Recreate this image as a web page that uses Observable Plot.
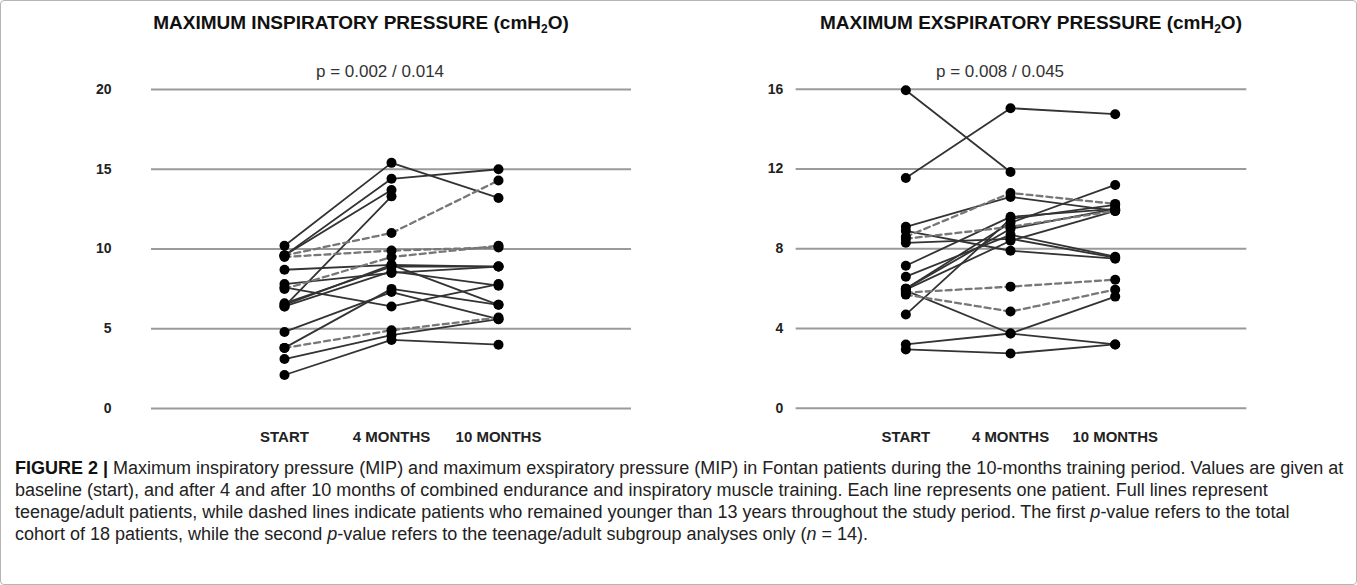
<!DOCTYPE html>
<html><head><meta charset="utf-8">
<script src="https://cdn.jsdelivr.net/npm/d3@7"></script>
<script src="https://cdn.jsdelivr.net/npm/@observablehq/plot@0.6"></script>
<style>
html,body{margin:0;padding:0;background:#fff;}
#fig{position:relative;width:1357px;height:585px;box-sizing:border-box;border:1px solid #b5b5b5;border-radius:4px;overflow:hidden;font-family:"Liberation Sans",Arial,sans-serif;}
.panel{position:absolute;top:0;}
.title{position:absolute;font-weight:bold;font-size:19px;line-height:22px;color:#111;white-space:nowrap;transform:translateX(-50%);}
.title sub{font-size:12px;vertical-align:-4px;line-height:0;}
.pval{position:absolute;font-size:17px;line-height:18px;color:#333;white-space:nowrap;transform:translateX(-50%);}
#caption{position:absolute;left:14px;top:456px;font-size:18px;line-height:22px;color:#222;font-family:"Liberation Sans Narrow","Liberation Sans",Arial,sans-serif;font-stretch:condensed;white-space:nowrap;}
#caption b{color:#111;}
</style></head><body>
<div id="fig">
  <div id="left" class="panel" style="left:0px"></div>
  <div id="right" class="panel" style="left:680px"></div>
  <div class="title" style="left:360px;top:11px">MAXIMUM INSPIRATORY PRESSURE (cmH<sub>2</sub>O)</div>
  <div class="title" style="left:1030px;top:11px">MAXIMUM EXSPIRATORY PRESSURE (cmH<sub>2</sub>O)</div>
  <div class="pval" style="left:379px;top:62px">p = 0.002 / 0.014</div>
  <div class="pval" style="left:999px;top:62px">p = 0.008 / 0.045</div>
  <div id="caption">
    <div><b>FIGURE 2 |</b> Maximum inspiratory pressure (MIP) and maximum exspiratory pressure (MIP) in Fontan patients during the 10-months training period. Values are given at</div>
    <div>baseline (start), and after 4 and after 10 months of combined endurance and inspiratory muscle training. Each line represents one patient. Full lines represent</div>
    <div>teenage/adult patients, while dashed lines indicate patients who remained younger than 13 years throughout the study period. The first <i>p</i>-value refers to the total</div>
    <div>cohort of 18 patients, while the second <i>p</i>-value refers to the teenage/adult subgroup analyses only (<i>n</i> = 14).</div>
  </div>
</div>
<script>
// Time points (x categories)
const timepoints = ["START", "4 MONTHS", "10 MONTHS"];

// Maximum inspiratory pressure (cmH2O), one entry per patient
const mipStart = [10.2, 9.6, 9.6, 6.4, 8.7, 7.8, 7.6, 6.5, 6.4, 4.8, 3.8, 3.1, 2.1, 6.6, 9.6, 9.5, 7.5, 3.8];
const mip4m    = [15.4, 14.4, 13.7, 13.3, 9.0, 8.5, 6.4, 9.0, 8.6, 7.3, 7.5, 4.6, 4.3, 8.9, 11.0, 9.9, 9.5, 4.9];
const mip10m   = [13.2, 15.0, null, null, 8.9, 8.9, 7.8, 6.5, 7.7, 5.6, 6.5, 5.6, 4.0, 8.9, 14.3, 10.1, 10.2, 5.7];

// Maximum exspiratory pressure (cmH2O), one entry per patient
const mepStart = [15.95, 11.55, 9.1, 8.3, 7.15, 6.6, 6.0, 6.0, 5.9, 4.7, 3.2, 2.95, 8.9, 5.95, 8.6, 8.5, 5.8, 5.7];
const mep4m    = [11.85, 15.05, 10.6, 8.5, 9.6, 8.7, 9.3, 9.0, 3.75, 9.5, 3.75, 2.75, 7.9, 8.4, 10.8, 9.1, 6.1, 4.85];
const mep10m   = [null, 14.75, 9.9, 7.55, 10.0, 7.6, 11.2, 10.0, 3.2, 10.2, 5.6, 3.2, 7.5, 9.9, 10.25, 9.9, 6.45, 5.95];

// Patients younger than 13 years (dashed lines)
const youngerThan13 = [false, false, false, false, false, false, false, false, false, false, false, false, false, false, true, true, true, true];

// Tick values
const mipTicks = [0, 5, 10, 15, 20];
const mepTicks = [0, 4, 8, 12, 16];

function longForm(s, m4, m10) {
  const out = [];
  s.forEach((v, i) => {
    [v, m4[i], m10[i]].forEach((val, j) => {
      if (val != null) out.push({id: i, time: timepoints[j], value: val, dashed: youngerThan13[i]});
    });
  });
  return out;
}

function panel(data, ticks, opts) {
  const solid = data.filter(d => !d.dashed);
  const dashed = data.filter(d => d.dashed);
  return Plot.plot({
    width: opts.width, height: 450,
    marginLeft: opts.ml, marginRight: opts.mr, marginTop: 88, marginBottom: opts.mb,
    style: {fontFamily: "'Liberation Sans', Arial, sans-serif", fontWeight: "bold", fontSize: "14px", color: "#222", background: "transparent"},
    x: {type: "point", domain: timepoints, range: opts.xr, tickSize: 0, tickPadding: 23, label: null},
    y: {domain: [ticks[0], ticks[ticks.length - 1]], ticks: ticks, tickSize: 0, tickPadding: opts.tp, label: null},
    marks: [
      Plot.ruleY(ticks, {stroke: "#9a9a9a", strokeWidth: 2}),
      Plot.line(solid, {x: "time", y: "value", z: "id", stroke: "#333", strokeWidth: 1.8}),
      Plot.line(dashed, {x: "time", y: "value", z: "id", stroke: "#777", strokeWidth: 2.3, strokeDasharray: "6,4"}),
      Plot.dot(data, {x: "time", y: "value", r: 5, fill: "#000", stroke: "none"})
    ]
  });
}

const left = panel(longForm(mipStart, mip4m, mip10m), mipTicks, {width: 680, ml: 150, mr: 50, mb: 43, xr: [229, 550], tp: 40});
const right = panel(longForm(mepStart, mep4m, mep10m), mepTicks, {width: 677, ml: 115, mr: 110, mb: 42, xr: [172, 488], tp: 13});
document.getElementById("left").appendChild(left);
document.getElementById("right").appendChild(right);
for (const svg of [left, right]) {
  d3.select(svg).selectAll("g[aria-label='x-axis tick label'] text, g[aria-label='x-axis'] text").style("font-size", "15px");
}
</script>
</body></html>
